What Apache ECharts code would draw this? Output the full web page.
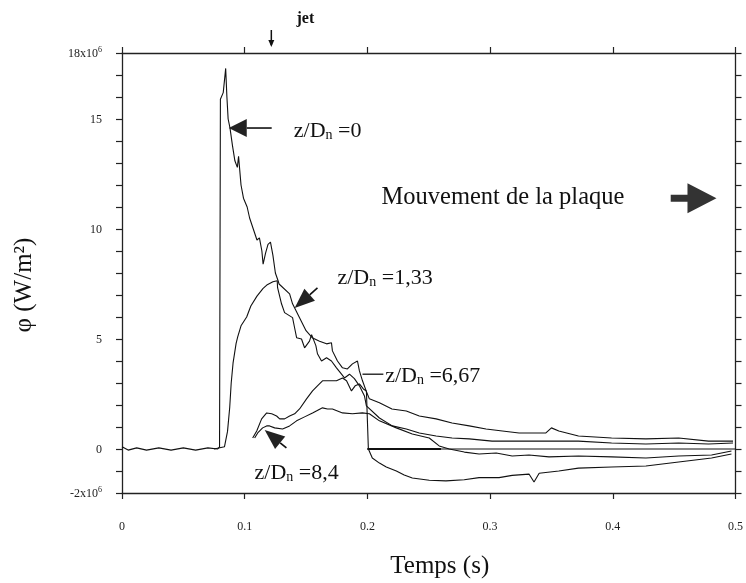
<!DOCTYPE html>
<html><head><meta charset="utf-8">
<script src="https://cdn.jsdelivr.net/npm/echarts@6/dist/echarts.min.js"></script>
<style>html,body{margin:0;padding:0;background:#fff}#c{width:746px;height:583px}</style>
</head><body><div id="c"></div>
<script>
// ---- data (time in s, flux in 10^6 W/m^2) ----
const xTickLabels = ['0','0.1','0.2','0.3','0.4','0.5'];
const yTickLabels = {'18':'18x10|6','15':'15','10':'10','5':'5','0':'0','-2':'-2x10|6'};

const zD0 = [[0,0.1],[0.005,-0.05],[0.012,0.05],[0.02,-0.05],[0.03,0.05],[0.04,-0.05],[0.05,0.05],[0.06,-0.05],[0.07,0.05],[0.078,0],[0.0795,0.1],[0.0802,15.9],[0.0825,16.2],[0.0845,17.3],[0.0855,16.0],[0.0865,15.0],[0.088,14.6],[0.090,13.8],[0.092,13.1],[0.094,12.8],[0.095,13.3],[0.097,12.0],[0.099,11.4],[0.102,11.0],[0.104,10.5],[0.107,10.0],[0.110,9.5],[0.112,9.6],[0.114,9.0],[0.115,8.4],[0.117,8.9],[0.119,9.3],[0.121,9.4],[0.123,8.8],[0.125,8.0],[0.1275,7.6],[0.128,7.5],[0.1366,7.05],[0.139,6.6],[0.1447,5.97],[0.150,5.38],[0.155,5.06],[0.161,4.9],[0.1667,4.78],[0.1707,4.83],[0.1715,4.46],[0.1756,4.0],[0.1797,3.69],[0.1837,3.64],[0.1878,3.87],[0.1919,4.0],[0.1935,3.55],[0.196,3.1],[0.199,2.64],[0.2016,2.28],[0.2098,2.1],[0.220,1.82],[0.2317,1.73],[0.2423,1.5],[0.256,1.37],[0.269,1.18],[0.283,1.05],[0.2967,0.91],[0.31,0.82],[0.3236,0.73],[0.3455,0.73],[0.350,0.96],[0.356,0.82],[0.372,0.59],[0.399,0.5],[0.427,0.46],[0.4537,0.5],[0.478,0.36],[0.498,0.36]];

const zD133 = [[0.075,0],[0.0835,0.1],[0.086,0.8],[0.0878,1.9],[0.089,3.0],[0.0905,3.9],[0.093,4.8],[0.0943,5.1],[0.097,5.6],[0.1016,6.0],[0.105,6.5],[0.11,6.95],[0.115,7.3],[0.118,7.45],[0.123,7.6],[0.1265,7.65],[0.1268,7.33],[0.130,6.6],[0.1325,6.2],[0.139,5.97],[0.1407,5.5],[0.1423,5.06],[0.1463,5.0],[0.1488,4.6],[0.1528,4.9],[0.1545,5.2],[0.158,4.7],[0.1593,4.33],[0.1626,4.0],[0.1667,4.15],[0.1707,4.0],[0.1748,3.69],[0.1789,3.4],[0.1813,3.23],[0.1854,3.4],[0.1894,3.2],[0.1935,2.87],[0.1976,2.41],[0.1992,1.96],[0.2098,1.41],[0.2203,1.05],[0.2317,0.91],[0.2423,0.73],[0.256,0.59],[0.269,0.5],[0.283,0.46],[0.3016,0.36],[0.3236,0.36],[0.3455,0.36],[0.372,0.36],[0.399,0.27],[0.427,0.23],[0.4537,0.27],[0.478,0.23],[0.498,0.27]];

const zD667 = [[0.1065,0.5],[0.1098,0.82],[0.1138,1.37],[0.1179,1.64],[0.122,1.6],[0.126,1.5],[0.1285,1.37],[0.1325,1.37],[0.1366,1.5],[0.1407,1.6],[0.1447,1.82],[0.1504,2.28],[0.1553,2.64],[0.1593,2.87],[0.1634,3.1],[0.169,3.1],[0.1748,3.1],[0.1797,3.23],[0.183,3.1],[0.187,2.64],[0.190,2.87],[0.1935,2.96],[0.1967,2.73],[0.1992,2.64],[0.2,1.28],[0.2008,0],[0.204,-0.41],[0.2098,-0.64],[0.2154,-0.82],[0.2236,-1.0],[0.230,-1.18],[0.2366,-1.32],[0.2504,-1.42],[0.264,-1.45],[0.2789,-1.4],[0.291,-1.3],[0.3073,-1.3],[0.318,-1.2],[0.3317,-1.14],[0.3358,-1.5],[0.34,-1.1],[0.356,-1.0],[0.372,-0.87],[0.399,-0.82],[0.427,-0.77],[0.4537,-0.59],[0.4805,-0.41],[0.4967,-0.23]];

const zD84 = [[0.1081,0.5],[0.1106,0.73],[0.1146,0.96],[0.1179,1.05],[0.1203,1.05],[0.1244,0.96],[0.1309,0.91],[0.1366,1.05],[0.1423,1.28],[0.1488,1.46],[0.1553,1.64],[0.1634,1.87],[0.1675,1.82],[0.1715,1.82],[0.1756,1.73],[0.1797,1.64],[0.1878,1.6],[0.1959,1.64],[0.2016,1.6],[0.2098,1.28],[0.2236,0.96],[0.2366,0.68],[0.2504,0.5],[0.2585,0.14],[0.2667,0],[0.279,-0.14],[0.291,-0.23],[0.305,-0.18],[0.318,-0.32],[0.3317,-0.27],[0.348,-0.36],[0.372,-0.32],[0.399,-0.36],[0.427,-0.41],[0.4537,-0.32],[0.4805,-0.27],[0.4967,-0.09]];

const zeroRef = [[0.2,0],[0.5,0]];
const zeroRefThick = [[0.2,0],[0.26,0]];

// ---- chart ----
const SERIF = '"Liberation Serif","Times New Roman",serif';
const INK = '#111';
const chart = echarts.init(document.getElementById('c'), null, {renderer:'canvas'});

function yFmt(v){
  const s = yTickLabels[String(v)];
  if (s === undefined) return '';
  if (s.indexOf('|') >= 0){ const p = s.split('|'); return '{a|'+p[0]+'}{s|'+p[1]+'}'; }
  return '{a|'+s+'}';
}
function xFmt(v){ const i = Math.round(v*10); return xTickLabels[i] !== undefined ? xTickLabels[i] : ''; }

const axLine = {show:true, onZero:false, lineStyle:{color:'#222', width:1.3}};
const axTick = {show:true, inside:false, length:6, lineStyle:{color:'#222', width:1.2}};

function line(name, data, w){
  return {name, type:'line', data, showSymbol:false, symbol:'none', smooth:false, animation:false,
          lineStyle:{color:INK, width:w||1.1}, z:3};
}

chart.setOption({
  backgroundColor:'#fff',
  animation:false,
  grid:{left:122, right:9, top:53, bottom:90, containLabel:false},
  xAxis:[
    {type:'value', min:0, max:0.5, interval:0.1, position:'bottom', axisLine:axLine, axisTick:axTick,
     splitLine:{show:false},
     axisLabel:{margin:28, fontFamily:SERIF, fontSize:12, color:'#222', formatter:xFmt}},
    {type:'value', min:0, max:0.5, interval:0.1, position:'top', axisLine:axLine, axisTick:axTick,
     splitLine:{show:false}, axisLabel:{show:false}}
  ],
  yAxis:[
    {type:'value', min:-2, max:18, interval:1, position:'left', axisLine:axLine, axisTick:axTick,
     splitLine:{show:false},
     axisLabel:{margin:20, formatter:yFmt, color:'#222',
       rich:{a:{fontFamily:SERIF, fontSize:12, color:'#222', lineHeight:14, verticalAlign:'bottom'},
             s:{fontFamily:SERIF, fontSize:8, color:'#222', lineHeight:8, verticalAlign:'top'}}}},
    {type:'value', min:-2, max:18, interval:1, position:'right', axisLine:axLine, axisTick:axTick,
     splitLine:{show:false}, axisLabel:{show:false}}
  ],
  series:[
    line('z/Dn=0', zD0),
    line('z/Dn=1,33', zD133),
    line('z/Dn=6,67', zD667),
    line('z/Dn=8,4', zD84),
    line('ref', zeroRef, 1.2),
    line('refThick', zeroRefThick, 2)
  ]
});

// ---- annotations anchored in data coordinates ----
function P(t, v){ return chart.convertToPixel({xAxisIndex:0, yAxisIndex:0}, [t, v]); }
function arrow(tip, tail, headLen, headHalf, w, fill){
  const dx = tail[0]-tip[0], dy = tail[1]-tip[1], L = Math.hypot(dx,dy);
  const ux = dx/L, uy = dy/L, nx = -uy, ny = ux;
  const bx = tip[0]+ux*headLen, by = tip[1]+uy*headLen;
  return [
    {type:'line', shape:{x1:bx, y1:by, x2:tail[0], y2:tail[1]}, style:{stroke:INK, lineWidth:w}},
    {type:'polygon', shape:{points:[tip, [bx+nx*headHalf, by+ny*headHalf], [bx-nx*headHalf, by-ny*headHalf]]},
     style:{fill:fill||'#222'}}
  ];
}
function zLabel(pos, tail){
  return {type:'text', x:pos[0], y:pos[1],
    style:{text:'{a|z/D}{s|n}{a| =' + tail + '}', align:'left', verticalAlign:'middle',
      rich:{a:{fontFamily:SERIF, fontSize:22, fill:INK, lineHeight:28, verticalAlign:'bottom'},
            s:{fontFamily:SERIF, fontSize:14, fill:INK, lineHeight:14, verticalAlign:'bottom'}}}};
}

const g = [];
// z/Dn = 0
g.push(...arrow(P(0.087,14.59), P(0.122,14.59), 18, 9, 1.6));
g.push(zLabel(P(0.140,14.59), '0'));
// z/Dn = 1,33
g.push(...arrow(P(0.1407,6.41), P(0.1593,7.32), 20, 8, 1.6));
g.push(zLabel(P(0.1756,7.9), '1,33'));
// z/Dn = 6,67
(function(){ const a = P(0.196,3.4), b = P(0.213,3.4);
  g.push({type:'line', shape:{x1:a[0], y1:a[1], x2:b[0], y2:b[1]}, style:{stroke:INK, lineWidth:1.3}}); })();
g.push(zLabel(P(0.2145,3.45), '6,67'));
// z/Dn = 8,4
g.push(...arrow(P(0.1163,0.86), P(0.134,0.05), 20, 8, 1.6));
g.push(zLabel(P(0.108,-0.95), '8,4'));

// plate movement text + big arrow
const mv = P(0.2115, 11.45);
g.push({type:'text', x:mv[0], y:mv[1], style:{text:'Mouvement de la plaque', fontFamily:SERIF, fontSize:24.5,
  fill:INK, align:'left', verticalAlign:'middle'}});
(function(){
  const s = P(0.4472, 11.4), e = P(0.4845, 11.4); // shaft start, head tip
  const y = s[1], hb = e[0]-29;
  g.push({type:'polygon', shape:{points:[[s[0],y-3.5],[hb,y-3.5],[hb,y-15],[e[0],y],[hb,y+15],[hb,y+3.5],[s[0],y+3.5]]},
    style:{fill:'#333'}});
})();

// jet marker on top axis
(function(){
  const top = P(0.1217, 18);
  const x = top[0];
  g.push({type:'line', shape:{x1:x, y1:top[1]-23, x2:x, y2:top[1]-8}, style:{stroke:INK, lineWidth:1.5}});
  g.push({type:'polygon', shape:{points:[[x,top[1]-6],[x-3,top[1]-13],[x+3,top[1]-13]]}, style:{fill:INK}});
  g.push({type:'text', x:x+34, y:top[1]-34, style:{text:'jet', fontFamily:SERIF, fontSize:16, fontWeight:'bold',
    fill:INK, align:'center', verticalAlign:'middle'}});
})();

// axis titles
(function(){
  const c = P(0.25, 8);
  g.push({type:'text', x:24, y:285, rotation:Math.PI/2, style:{text:'φ (W/m²)', fontFamily:SERIF, fontSize:25,
    fill:INK, align:'center', verticalAlign:'middle'}});
  g.push({type:'text', x:c[0]+11, y:566, style:{text:'Temps (s)', fontFamily:SERIF, fontSize:25,
    fill:INK, align:'center', verticalAlign:'middle'}});
})();

chart.setOption({graphic:g});
</script>
</body></html>
